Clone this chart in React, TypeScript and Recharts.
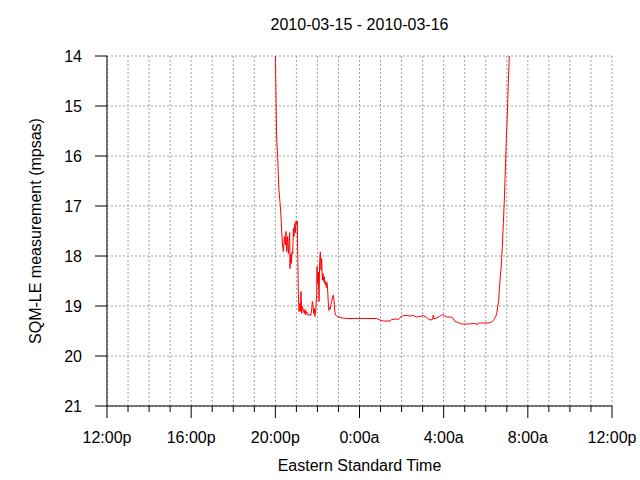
import { LineChart, Line, XAxis, YAxis, CartesianGrid } from 'recharts';

// hours since 12:00p on 2010-03-15
const hours = [
  7.98, 8.01, 8.06, 8.11, 8.17, 8.24, 8.28, 8.333, 8.381, 8.428, 8.476, 8.507,
  8.539, 8.587, 8.618, 8.65, 8.682, 8.697, 8.729, 8.761, 8.792, 8.824, 8.856,
  8.887, 8.919, 8.951, 8.982, 9.014, 9.046, 9.062, 9.093, 9.125, 9.157, 9.188,
  9.22, 9.252, 9.283, 9.331, 9.378, 9.41, 9.442, 9.489, 9.537, 9.568, 9.616,
  9.68, 9.727, 9.759, 9.79, 9.822, 9.854, 9.885, 9.933, 9.965, 9.981, 10.012,
  10.044, 10.076, 10.107, 10.139, 10.171, 10.202, 10.234, 10.266, 10.297,
  10.329, 10.361, 10.392, 10.424, 10.456, 10.487, 10.519, 10.551, 10.582,
  10.614, 10.646, 10.677, 10.725, 10.757, 10.788, 10.82, 10.852, 10.915,
  10.994, 11.073, 11.232, 11.39, 11.707, 12.024, 12.341, 12.816, 12.975,
  13.133, 13.45, 13.53, 13.768, 13.847, 13.926, 14.005, 14.084, 14.243,
  14.401, 14.56, 14.718, 14.876, 15.003, 15.114, 15.194, 15.273, 15.352,
  15.463, 15.51, 15.543, 15.669, 15.796, 15.955, 16.065, 16.145, 16.382,
  16.461, 16.54, 16.698, 16.857, 17.174, 17.411, 17.522, 17.57, 17.649,
  17.887, 18.124, 18.283, 18.394, 18.474, 18.522, 18.569, 18.617, 18.646,
  18.693, 18.741, 18.788, 18.836, 18.883, 18.931, 18.979, 19.026, 19.074,
  19.122, 19.154,
];

// sky brightness, magnitudes per square arcsecond
const mpsas = [
  13.5, 14.13, 15.61, 16.01, 16.68, 17.01, 17.31, 17.74, 17.91, 17.61, 17.78,
  17.51, 17.91, 17.61, 17.95, 17.78, 17.53, 18.25, 17.96, 18.15, 17.92, 17.96,
  17.45, 17.61, 17.35, 17.53, 17.3, 17.36, 17.3, 17.88, 18.75, 19.11, 18.95,
  19.11, 18.71, 19.15, 19.01, 19.08, 19.15, 19.07, 19.18, 19.11, 19.15, 19.19,
  19.16, 19.19, 19.08, 18.91, 18.97, 19.15, 19.05, 19.21, 19.01, 18.75, 18.21,
  18.55, 18.32, 18.91, 18.11, 17.92, 18.28, 18.05, 18.48, 18.35, 18.51, 18.41,
  18.57, 18.51, 18.63, 18.53, 18.68, 18.96, 19.09, 19.03, 19.06, 18.96, 18.91,
  18.81, 18.78, 18.88, 19.08, 19.18, 19.2, 19.22, 19.23, 19.24, 19.25, 19.25,
  19.25, 19.25, 19.25, 19.28, 19.3, 19.3, 19.27, 19.26, 19.27, 19.23, 19.21,
  19.19, 19.19, 19.2, 19.19, 19.22, 19.21, 19.19, 19.21, 19.23, 19.26, 19.28,
  19.27, 19.18, 19.26, 19.24, 19.21, 19.17, 19.2, 19.22, 19.22, 19.26, 19.31,
  19.33, 19.36, 19.36, 19.35, 19.35, 19.38, 19.34, 19.34, 19.34, 19.32, 19.27,
  19.21, 19.15, 19.01, 18.88, 18.68, 18.41, 18.18, 17.81, 17.35, 16.88, 16.28,
  15.65, 15.18, 14.48, 14.0, 13.6,
];

const xTicks = [
  0, 1, 2, 3, 4, 5, 6, 7, 8, 9, 10, 11, 12, 13, 14, 15, 16, 17, 18, 19, 20,
  21, 22, 23, 24,
];
const majorTicks = [0, 4, 8, 12, 16, 20, 24];
const majorLabels = ['12:00p', '16:00p', '20:00p', '0:00a', '4:00a', '8:00a', '12:00p'];
const yTicks = [14, 15, 16, 17, 18, 19, 20, 21];

const FONT = '"Liberation Sans", Arial, sans-serif';
const FS = 16;

const data = hours.map((h, i) => ({ h, v: mpsas[i] }));

function HourTick({ x, y, payload }: any) {
  const idx = majorTicks.indexOf(payload.value);
  const major = idx >= 0;
  return (
    <g>
      <line x1={x} x2={x} y1={y} y2={y + (major ? 12 : 6)} stroke="#000" strokeWidth={1} />
      {major && (
        <text x={x} y={y + 37} textAnchor="middle" fontSize={FS} fontFamily={FONT} fill="#000">
          {majorLabels[idx]}
        </text>
      )}
    </g>
  );
}

export default function App() {
  return (
    <div style={{ position: 'absolute', left: 0, top: 0, width: 640, height: 480, background: '#fff' }}>
      <LineChart
        width={640}
        height={480}
        data={data}
        margin={{ top: 56, right: 28, bottom: 0, left: 0 }}
      >
        <CartesianGrid stroke="#a0a0a0" strokeDasharray="2 2" />
        <XAxis
          dataKey="h"
          type="number"
          domain={[0, 24]}
          ticks={xTicks}
          interval={0}
          height={74}
          tickSize={0}
          tickMargin={0}
          tickLine={false}
          axisLine={{ stroke: '#000' }}
          tick={<HourTick />}
        />
        <YAxis
          type="number"
          domain={[14, 21]}
          ticks={yTicks}
          reversed
          allowDataOverflow
          width={107}
          tickSize={12}
          tickMargin={13}
          axisLine={{ stroke: '#000' }}
          tickLine={{ stroke: '#000' }}
          tick={{ fill: '#000', fontSize: FS, fontFamily: FONT }}
        />
        <Line
          type="linear"
          dataKey="v"
          stroke="#ff0000"
          strokeWidth={1}
          dot={false}
          isAnimationActive={false}
        />
      </LineChart>
      <svg
        width={640}
        height={480}
        style={{ position: 'absolute', left: 0, top: 0, pointerEvents: 'none' }}
        fontFamily={FONT}
        fontSize={FS}
        fill="#000"
      >
        <text x={359.5} y={29.5} textAnchor="middle">2010-03-15 - 2010-03-16</text>
        <text x={359.5} y={471} textAnchor="middle">Eastern Standard Time</text>
        <text transform="rotate(-90)" x={-231} y={41} textAnchor="middle">
          SQM-LE measurement (mpsas)
        </text>
      </svg>
    </div>
  );
}
